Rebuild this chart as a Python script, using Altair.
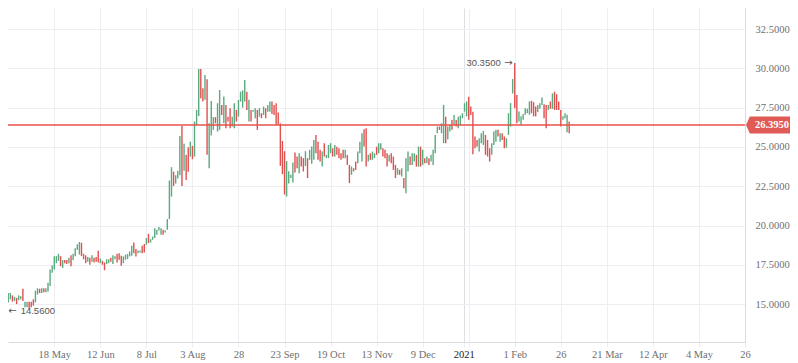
import altair as alt
import pandas as pd

# ---------------- data (daily bars, x = bar slot, 0 = 18 May 2020) ----------------
FIRST_SLOT = -26

# lows / highs per bar, grouped by axis interval
LOWS = [
    # Apr - 18 May
    15.20, 15.30, 15.10, 14.56, 15.10, 15.30, 15.15, 15.20, 15.00, 15.25, 15.30, 15.20, 14.80,
    14.80, 14.70, 14.80, 14.90, 15.10, 15.60, 15.70, 15.70, 15.75, 15.75, 15.80, 16.15, 17.00,
    # 18 May - 12 Jun
    17.20, 17.60, 17.75, 17.40, 17.30, 17.60, 17.55, 17.60, 17.40, 17.80, 18.05, 18.45, 18.15,
    18.05, 17.85, 17.60, 17.70, 17.50, 17.70, 17.65, 17.70, 17.65,
    # 12 Jun - 8 Jul
    17.60, 17.50, 17.15, 17.55, 17.60, 17.70, 17.55, 17.85, 17.65, 17.82, 17.44, 17.60, 17.82,
    17.86, 18.03, 18.07, 18.24, 18.03, 18.24, 18.28, 18.24, 18.28,
    # 8 Jul - 3 Aug
    18.77, 18.88, 18.92, 19.09, 19.20, 19.41, 19.69, 19.41, 19.41, 19.56, 19.73, 20.41, 21.84,
    22.52, 22.67, 23.00, 23.20, 22.52, 23.48, 22.90, 23.43, 24.39,
    # 3 Aug - 28 Aug
    24.22, 24.39, 26.40, 26.97, 28.10, 27.89, 28.00, 24.50, 23.65, 25.73, 26.09, 26.51, 25.98,
    26.09, 27.04, 26.51, 26.20, 26.62, 26.20, 26.30, 26.20, 26.62,
    # 28 Aug - 23 Sep
    26.93, 27.89, 27.50, 27.89, 27.36, 26.62, 26.62, 27.25, 26.83, 26.09, 26.93, 26.83, 27.04,
    26.83, 27.25, 27.25, 27.10, 27.04, 26.41, 26.41, 23.80, 23.27,
    # 23 Sep - 19 Oct
    21.97, 21.85, 22.68, 23.02, 22.74, 23.38, 23.65, 23.33, 23.75, 23.44, 23.79, 23.02, 24.18,
    23.93, 24.18, 24.60, 24.18, 24.07, 23.75, 24.39, 24.29, 24.29,
    # 19 Oct - 13 Nov
    24.60, 24.39, 24.39, 24.50, 24.29, 24.18, 24.29, 24.29, 23.86, 22.70, 23.23, 23.44, 23.54,
    23.96, 24.60, 24.07, 25.03, 23.75, 24.07, 24.18, 24.18, 24.29,
    # 13 Nov - 9 Dec
    24.50, 24.60, 24.82, 24.39, 24.29, 23.75, 24.07, 23.96, 23.54, 23.02, 23.23, 23.23, 23.12,
    22.38, 22.06, 23.44, 23.86, 23.86, 24.07, 23.75, 23.75, 23.75,
    # 9 Dec - early Jan
    23.86, 23.96, 23.96, 23.86, 24.07, 23.86, 24.60, 25.88, 26.09, 25.88, 25.24, 25.24, 25.50,
    25.98, 26.09, 26.41, 26.30, 26.20, 26.40, 26.83, 27.25, 26.95,
    # Jan - 1 Feb
    26.74, 27.04, 24.54, 24.92, 25.03, 24.71, 25.24, 25.13, 24.50, 24.39, 24.07, 24.50, 25.13,
    25.34, 25.66, 25.34, 25.45, 24.92, 24.96, 25.77, 26.30, 28.41,
    # 1 Feb - 3 Mar
    27.47, 26.51, 26.62, 26.41, 26.74, 27.05, 27.15, 27.05, 27.15, 26.95, 26.95, 27.22, 27.43,
    27.68, 26.83, 26.20, 27.36, 27.43, 27.43, 27.36, 27.36, 27.36, 26.30, 26.74, 26.83, 25.94,
    25.88,
]

HIGHS = [
    15.85, 15.60, 15.75, 15.60, 15.70, 15.70, 15.55, 15.45, 15.40, 15.55, 15.50, 15.97, 15.15,
    15.15, 15.15, 15.15, 15.30, 15.85, 16.00, 15.97, 16.00, 16.00, 16.00, 16.35, 17.20, 17.45,
    18.05, 18.05, 18.20, 18.05, 17.80, 17.80, 17.80, 17.95, 18.10, 18.20, 18.55, 18.80, 18.95,
    18.90, 18.20, 18.10, 18.00, 17.95, 18.10, 17.95, 18.00, 18.40,
    17.90, 17.75, 17.65, 17.85, 17.85, 17.95, 18.10, 18.05, 18.20, 18.24, 18.07, 18.03, 18.14,
    18.18, 18.35, 18.71, 18.92, 18.50, 18.41, 18.41, 18.71, 18.82,
    19.20, 19.47, 19.13, 19.30, 19.83, 19.73, 19.90, 19.83, 19.73, 19.69, 20.41, 22.86, 23.71,
    23.43, 23.20, 23.48, 25.70, 26.34, 25.20, 24.50, 24.99, 25.34,
    25.07, 26.62, 27.36, 29.97, 29.97, 28.74, 29.59, 29.31, 26.51, 27.93, 26.90, 26.90, 27.79,
    28.63, 27.68, 28.21, 27.68, 26.93, 27.47, 26.93, 27.79, 27.36,
    28.00, 28.52, 28.60, 29.27, 28.52, 28.00, 27.36, 27.36, 27.47, 27.36, 27.47, 27.15, 27.57,
    27.47, 27.68, 27.89, 27.89, 27.68, 27.79, 27.20, 26.50, 25.38,
    24.73, 24.10, 23.46, 23.23, 24.01, 24.65, 24.39, 24.60, 24.39, 24.29, 24.73, 24.29, 24.82,
    25.03, 25.45, 25.77, 25.34, 24.82, 24.71, 25.24, 24.50, 25.13,
    25.24, 24.92, 25.13, 25.02, 24.92, 24.60, 24.82, 24.82, 24.50, 23.86, 23.75, 23.65, 24.07,
    24.71, 25.34, 25.88, 26.13, 26.20, 24.50, 24.60, 24.71, 24.60,
    25.02, 25.24, 25.24, 24.92, 24.82, 24.60, 24.50, 24.60, 24.39, 23.86, 23.65, 23.54, 23.65,
    23.02, 24.29, 24.71, 24.39, 24.60, 24.60, 24.50, 25.03, 25.02,
    24.82, 24.29, 24.39, 24.29, 24.50, 24.82, 25.77, 26.30, 26.30, 26.51, 27.68, 26.93, 26.30,
    26.41, 26.72, 27.04, 26.72, 26.93, 27.00, 27.15, 27.79, 27.90,
    28.20, 27.57, 27.25, 25.66, 25.45, 25.56, 25.87, 26.02, 25.77, 25.45, 24.92, 25.24, 25.98,
    26.09, 26.09, 25.87, 25.87, 25.66, 25.56, 27.15, 27.79, 29.33,
    30.35, 28.31, 27.26, 26.95, 27.10, 27.47, 27.43, 27.90, 27.94, 27.85, 27.58, 27.68, 27.79,
    28.15, 27.72, 27.68, 27.68, 27.90, 28.41, 28.52, 28.36, 27.90, 27.36, 26.95, 27.15, 27.05,
    26.62,
]

# u = close above open (green), d = close below open (red)
DIRS = ("ddud" "uudu" "duud" "uudd" "duud" "uduu" "uu"
        "uuud" "uddu" "duuu" "uddd" "udud" "dd"
        "uddu" "uduu" "dddu" "uuuu" "dduu" "dd"
        "uduu" "uuuu" "duuu" "uduu" "udud" "du"
        "duuu" "ddud" "uuud" "uudu" "dddu" "ud"
        "uuuu" "dudu" "udud" "uduu" "dddd" "dd"
        "duuu" "uddu" "ddud" "uuud" "ddud" "uu"
        "udud" "dddu" "ddud" "duuu" "ddud" "uu"
        "duud" "ddud" "ddud" "uduu" "duud" "ud"
        "udud" "uuuu" "duud" "uudu" "duuu" "uu"
        "dddd" "duuu" "dddu" "uudu" "dduu" "uu"
        "dduu" "uuuu" "dddu" "uudd" "udud" "dddu" "uud")

LAST_PRICE = 26.395
HIGH_SLOT, HIGH_VALUE = 220, 30.35
LOW_SLOT, LOW_VALUE = -23, 14.56

TICK_SLOTS = [0, 22, 44, 66, 88, 110, 132, 154, 176, 195.6, 198.2, 220, 242, 264, 286, 308, 330]
TICK_LABELS = ["18 May", "12 Jun", "8 Jul", "3 Aug", "28", "23 Sep", "19 Oct", "13 Nov",
               "9 Dec", "2021", "", "1 Feb", "26", "21 Mar", "12 Apr", "4 May", "26"]
Y_TICKS = [15.0, 17.5, 20.0, 22.5, 25.0, 27.5, 30.0, 32.5]

# ---------------- layout ----------------
W, H = 737, 334
X_LO, X_HI = -22.11, 330.0
Y_LO, Y_HI = 12.583, 33.849

UP, DOWN = "#5aa97f", "#e24f4f"
GRID = "#eceef1"
AXIS = "#d9dce0"
LABEL = "#6f6f6f"
SERIF = "Liberation Serif"
SANS = "Liberation Sans"
NOTE = "#555555"

n = len(LOWS)
bars = pd.DataFrame({
    "slot": [FIRST_SLOT + i for i in range(n)],
    "low": LOWS,
    "high": HIGHS[:n],
    "dir": list(DIRS[:n]),
})

xscale = alt.Scale(domain=[X_LO, X_HI], nice=False, zero=False)
yscale = alt.Scale(domain=[Y_LO, Y_HI], nice=False, zero=False)

label_expr = ("[" + ",".join("'" + l + "'" for l in TICK_LABELS) + "][indexof(["
              + ",".join(str(v) for v in TICK_SLOTS) + "], datum.value)]")
is2021 = "datum.value > 195 && datum.value < 196"

x_axis = alt.Axis(
    values=TICK_SLOTS, labelExpr=label_expr, title=None, grid=True,
    gridColor={"condition": {"test": is2021, "value": "#dcdfe3"}, "value": GRID},
    domainColor=AXIS, tickColor=GRID, tickSize=5, labelPadding=2,
    labelFont=SERIF, labelFontSize=10.5,
    labelColor={"condition": {"test": is2021, "value": "#222222"}, "value": LABEL},
    labelAngle=0, labelOverlap=False, labelFlush=False,
)
y_axis = alt.Axis(
    orient="right", values=Y_TICKS, format=".4f", title=None, grid=True,
    gridColor=GRID, domainColor=AXIS, ticks=False, labelPadding=10,
    labelFont=SERIF, labelFontSize=10.5, labelColor=LABEL,
)

candles = alt.Chart(bars).mark_rule(strokeWidth=1.4, clip=True).encode(
    x=alt.X("slot:Q", scale=xscale, axis=x_axis),
    y=alt.Y("low:Q", scale=yscale, axis=y_axis),
    y2="high:Q",
    color=alt.Color("dir:N", scale=alt.Scale(domain=["u", "d"], range=[UP, DOWN]), legend=None),
)

price_df = pd.DataFrame({"price": [LAST_PRICE]})
price_line = alt.Chart(price_df).mark_rule(color="#e8504a", strokeWidth=1.5).encode(
    y=alt.Y("price:Q", scale=yscale)
)

TAG_PATH = "M-1,0 L-0.85,-0.333 L1,-0.333 L1,0.333 L-0.85,0.333 Z"
tag = alt.Chart(price_df).mark_point(
    shape=TAG_PATH, size=2601, filled=True, color="#e05a56", opacity=1, strokeWidth=0
).encode(x=alt.value(763.5), y=alt.Y("price:Q", scale=yscale))
tag_text = alt.Chart(price_df).mark_text(
    color="white", font=SERIF, fontSize=10.5, fontWeight="bold", align="center", baseline="middle"
).encode(x=alt.value(764), y=alt.Y("price:Q", scale=yscale), text=alt.Text("price:Q", format=".4f"))

hi_df = pd.DataFrame({"slot": [HIGH_SLOT], "v": [HIGH_VALUE]})
lo_df = pd.DataFrame({"slot": [LOW_SLOT], "v": [LOW_VALUE]})


def note(df, align, dx, text=None, arrow=None):
    if arrow is not None:
        mark = alt.Chart(df).mark_text(align=align, baseline="middle", dx=dx, font="DejaVu Sans",
                                       fontSize=10, color=NOTE, text=arrow)
        return mark.encode(x=alt.X("slot:Q", scale=xscale), y=alt.Y("v:Q", scale=yscale))
    mark = alt.Chart(df).mark_text(align=align, baseline="middle", dx=dx, font=SANS,
                                   fontSize=9.5, color=NOTE)
    return mark.encode(x=alt.X("slot:Q", scale=xscale), y=alt.Y("v:Q", scale=yscale),
                       text=alt.Text("v:Q", format=".4f"))


hi_arrow = note(hi_df, "right", -2, arrow="\u2192")
hi_num = note(hi_df, "right", -14)
lo_arrow = note(lo_df, "left", 2.2, arrow="\u2190")
lo_num = note(lo_df, "left", 14.5)

chart = alt.layer(candles, price_line, hi_arrow, hi_num, lo_arrow, lo_num, tag, tag_text).properties(
    width=W, height=H, background="white",
    padding={"left": 0, "top": 0, "right": 45, "bottom": 20},
    autosize=alt.AutoSizeParams(type="none"),
).configure_view(strokeOpacity=0)

chart.save("out.html", embed_options={"renderer": "svg", "actions": False})
